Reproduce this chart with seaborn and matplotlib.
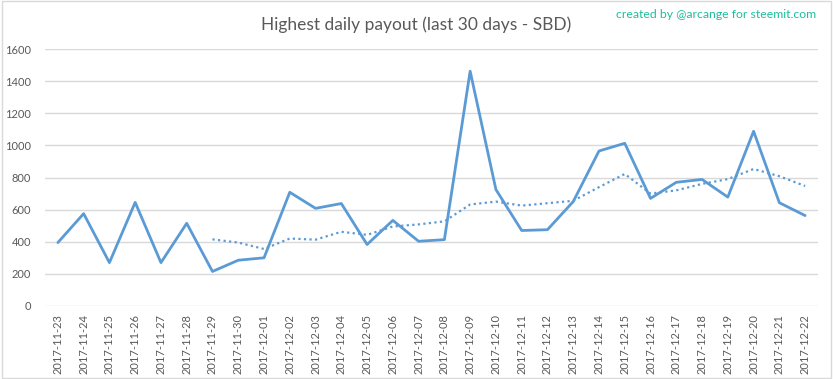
import pandas as pd
import matplotlib
matplotlib.use("Agg")
import matplotlib.pyplot as plt
import seaborn as sns

# daily values
dates = ["2017-11-23", "2017-11-24", "2017-11-25", "2017-11-26", "2017-11-27",
         "2017-11-28", "2017-11-29", "2017-11-30", "2017-12-01", "2017-12-02",
         "2017-12-03", "2017-12-04", "2017-12-05", "2017-12-06", "2017-12-07",
         "2017-12-08", "2017-12-09", "2017-12-10", "2017-12-11", "2017-12-12",
         "2017-12-13", "2017-12-14", "2017-12-15", "2017-12-16", "2017-12-17",
         "2017-12-18", "2017-12-19", "2017-12-20", "2017-12-21", "2017-12-22"]
payout = [395, 575, 270, 645, 270, 515, 215, 285, 300, 708,
          608, 638, 383, 533, 403, 413, 1462, 725, 470, 475,
          650, 965, 1013, 670, 770, 788, 678, 1088, 643, 563]
# trend (dotted) starts at 2017-11-29
trend = [None] * 6 + [415, 395, 355, 420, 413, 462, 443, 495, 508, 527,
                      632, 650, 625, 640, 655, 740, 822, 700, 720, 760,
                      790, 853, 808, 747]
yticks_vals = [0, 200, 400, 600, 800, 1000, 1200, 1400, 1600]

blue = "#5b9bd5"
grey_txt = "#595959"

df = pd.DataFrame({"pos": range(len(dates)), "date": dates,
                   "payout": payout, "trend": trend})
df["trend"] = df["trend"].astype(float)

sns.set_style("white")
plt.rcParams["font.family"] = ["Lato", "DejaVu Sans"]

fig = plt.figure(figsize=(8.33, 3.79), dpi=100)
ax = fig.add_axes([45 / 833, (379 - 306) / 379, (818 - 45) / 833, (306 - 49) / 379])

sns.lineplot(data=df, x="pos", y="payout", color=blue, linewidth=2, ax=ax)
sns.lineplot(data=df.dropna(), x="pos", y="trend", color=blue, linewidth=1.6,
             linestyle=(0, (1, 1.5)), ax=ax)

ax.set_xlim(-0.5, len(dates) - 0.5)
ax.set_ylim(0, 1600)
ax.set_yticks(yticks_vals)
ax.set_yticklabels([str(v) for v in yticks_vals], fontsize=8, color=grey_txt)
ax.set_xticks(range(len(dates)))
ax.set_xticklabels(dates, rotation=90, fontsize=8, color=grey_txt)
ax.tick_params(axis="both", length=0, pad=6)
ax.tick_params(axis="y", pad=10)
ax.set_xlabel("")
ax.set_ylabel("")
ax.grid(axis="y", color="#d9d9d9", linewidth=1)
ax.set_axisbelow(True)
for s in ax.spines.values():
    s.set_visible(False)

fig.text(0.5, 0.935, "Highest daily payout (last 30 days - SBD)", ha="center",
         va="center", fontsize=12.5, color=grey_txt)
fig.text(0.98, 0.962, "created by @arcange for steemit.com", ha="right",
         va="center", fontsize=8.8, color="#1dbf9b")

border = plt.Rectangle((0.002, 0.003), 0.996, 0.994, transform=fig.transFigure,
                       fill=False, edgecolor="#d9d9d9", linewidth=1)
fig.patches.append(border)

fig.savefig("out.png", dpi=100, facecolor="white")
